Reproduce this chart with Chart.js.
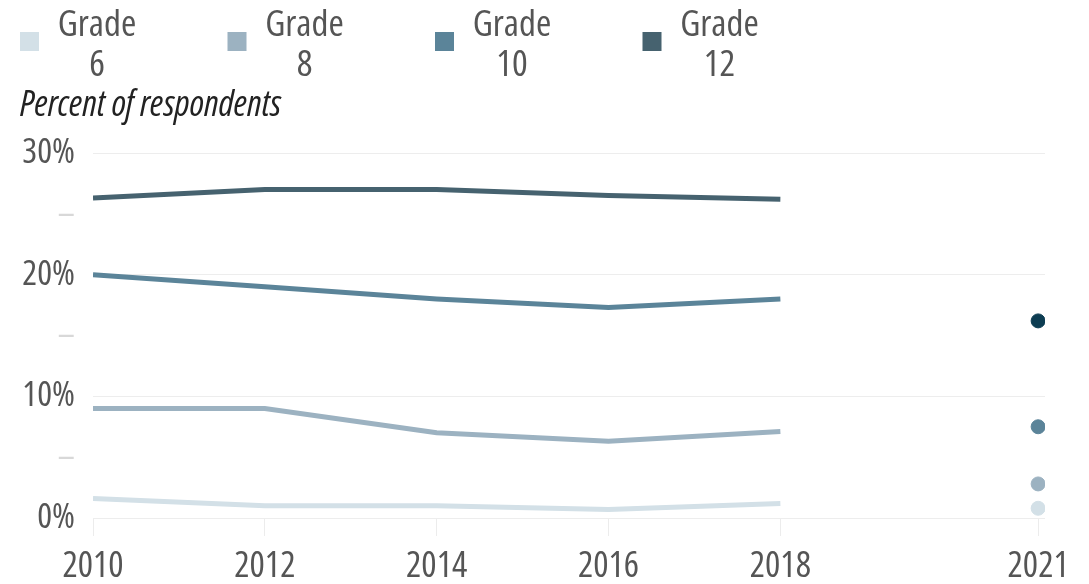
<!DOCTYPE html>
<html>
<head>
<meta charset="utf-8">
<script src="https://cdn.jsdelivr.net/npm/chart.js"></script>
<style>
  html, body { margin: 0; padding: 0; background: #fff; }
  #wrap { width: 1089px; height: 584px; }
</style>
</head>
<body>
<div id="wrap"><canvas id="chart" width="1089" height="584"></canvas></div>
<script>
const years = [2010, 2012, 2014, 2016, 2018]
const lastYear = 2021
const tickYears = [2010, 2012, 2014, 2016, 2018, 2021]
const grades = ['Grade 6', 'Grade 8', 'Grade 10', 'Grade 12']
const grade6 = [1.6, 1.0, 1.0, 0.7, 1.2]
const grade8 = [9.0, 9.0, 7.0, 6.3, 7.1]
const grade10 = [20.0, 19.0, 18.0, 17.3, 18.0]
const grade12 = [26.3, 27.0, 27.0, 26.5, 26.2]
const values2021 = [0.8, 2.8, 7.5, 16.2]
const lineColors = ['#d3e0e7', '#9cb2c1', '#5b8499', '#46626f']
const dotColors = ['#d3e0e7', '#9cb2c1', '#5b8499', '#0d3d52']

const FONT = "'Open Sans', sans-serif"
const TEXT = '#555'

const series = [grade6, grade8, grade10, grade12]

const datasets = []
series.forEach((vals, i) => {
    datasets.push({
        type: 'line',
        label: grades[i],
        data: years.map((y, k) => ({ x: y, y: vals[k] })),
        borderColor: lineColors[i],
        borderWidth: 5,
        pointRadius: 0,
        tension: 0,
        fill: false
    })
})
series.forEach((vals, i) => {
    datasets.push({
        type: 'scatter',
        label: grades[i] + ' ' + lastYear,
        data: [{ x: lastYear, y: values2021[i] }],
        backgroundColor: dotColors[i],
        borderColor: dotColors[i],
        pointRadius: 7,
        isDot: true
    })
})

// legend + axis title, drawn on the canvas
const legendPlugin = {
    id: 'gradeLegend',
    afterDraw(chart) {
        const ctx = chart.ctx
        ctx.save()
        chart.data.datasets.forEach((ds, i) => {
            if (ds.isDot) return
            const sx = 20 + i * 207.5
            ctx.fillStyle = ds.borderColor
            ctx.fillRect(sx, 32, 19, 19)
            const parts = ds.label.split(' ')
            ctx.fillStyle = TEXT
            ctx.font = 'condensed 37px ' + FONT
            ctx.textAlign = 'center'
            ctx.textBaseline = 'middle'
            ctx.fillText(parts[0], sx + 77, 25)
            ctx.fillText(parts[1], sx + 77, 65)
        })
        ctx.font = 'italic condensed 36px ' + FONT
        ctx.textAlign = 'left'
        ctx.textBaseline = 'middle'
        ctx.fillStyle = '#222'
        ctx.fillText('Percent of respondents', 20, 106)
        ctx.restore()
    }
}

new Chart(document.getElementById('chart'), {
    type: 'line',
    data: { datasets },
    options: {
        responsive: false,
        animation: false,
        layout: { padding: { top: 153, right: 44, left: 0, bottom: 0 } },
        plugins: {
            legend: { display: false },
            tooltip: { enabled: false }
        },
        scales: {
            x: {
                type: 'linear',
                min: 2010,
                max: 2021.08,
                afterBuildTicks(scale) {
                    scale.ticks = tickYears.map(v => ({ value: v }))
                },
                afterFit(scale) { scale.height = 66 },
                border: { display: false },
                grid: {
                    drawOnChartArea: false,
                    drawTicks: true,
                    tickLength: 18,
                    tickColor: '#ececec',
                    lineWidth: 1
                },
                ticks: {
                    autoSkip: false,
                    maxRotation: 0,
                    padding: 9,
                    color: TEXT,
                    font: { family: FONT, size: 36, weight: 'condensed' },
                    callback: v => String(v)
                }
            },
            y: {
                min: 0,
                max: 30,
                afterFit(scale) { scale.width = 93 },
                border: { display: false },
                grid: {
                    drawTicks: false,
                    color: ctx => (ctx.tick && ctx.tick.value % 10 === 0) ? '#ededed' : 'rgba(0,0,0,0)',
                    lineWidth: 1
                },
                ticks: {
                    stepSize: 5,
                    padding: 18,
                    color: ctx => (ctx.tick && ctx.tick.value % 10 === 0) ? TEXT : '#d8d8d8',
                    font: { family: FONT, size: 35, weight: 'condensed' },
                    callback: v => (v % 10 === 0 ? v + '%' : '\u2013')
                }
            }
        }
    },
    plugins: [legendPlugin]
})
</script>
</body>
</html>
